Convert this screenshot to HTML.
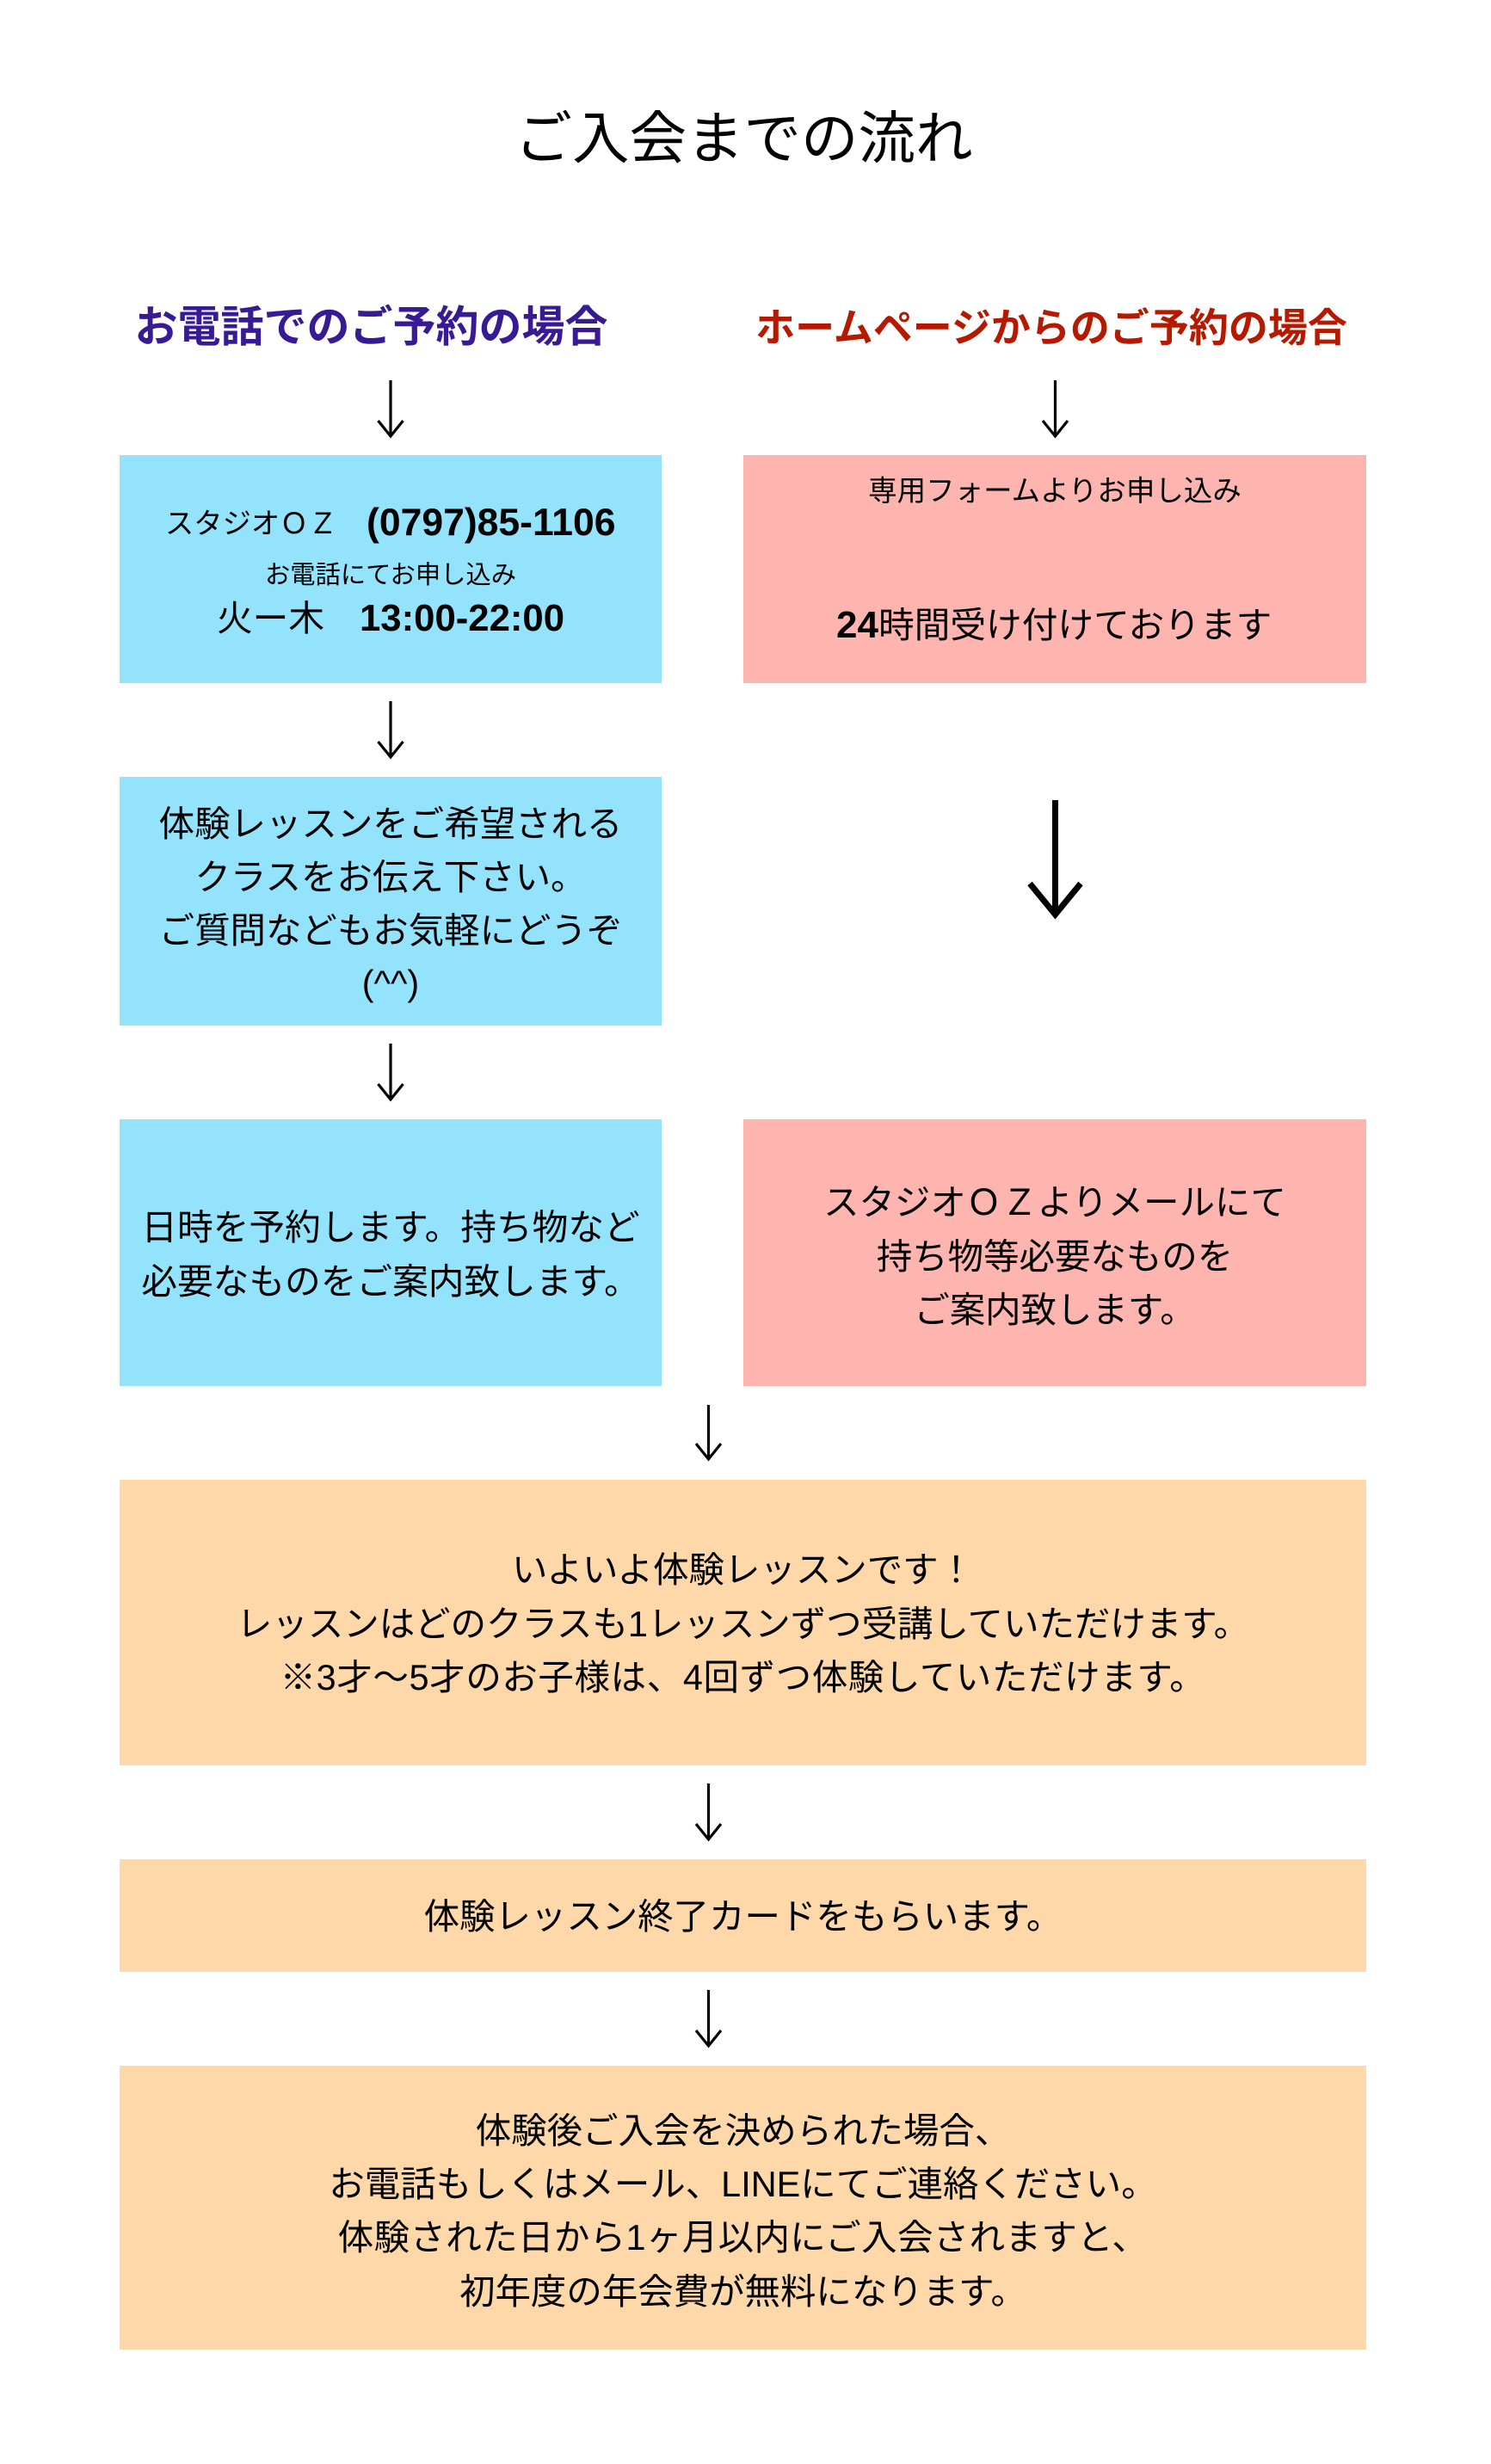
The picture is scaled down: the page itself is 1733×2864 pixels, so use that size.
<!DOCTYPE html>
<html lang="ja"><head><meta charset="utf-8"><title>ご入会までの流れ</title>
<style>html,body{margin:0;padding:0;background:#fff}svg{display:block}
text{font-family:"Liberation Sans","Noto Sans CJK JP",sans-serif;fill:#000;font-size:41.450px}
.m{text-anchor:middle}.b{font-weight:bold}</style></head><body>
<svg xmlns="http://www.w3.org/2000/svg" width="1733" height="2864" viewBox="0 0 1733 2864">
<rect width="1733" height="2864" fill="#fff"/>
<rect x="139" y="529" width="630" height="265" fill="#93E3FD"/>
<rect x="139" y="903" width="630" height="289" fill="#93E3FD"/>
<rect x="139" y="1301" width="630" height="310" fill="#93E3FD"/>
<rect x="864" y="529" width="724" height="265" fill="#FFB5AF"/>
<rect x="864" y="1301" width="724" height="310" fill="#FFB5AF"/>
<rect x="139" y="1720" width="1449" height="332" fill="#FED8A8"/>
<rect x="139" y="2161" width="1449" height="131" fill="#FED8A8"/>
<rect x="139" y="2401" width="1449" height="330" fill="#FED8A8"/>
<g fill="none" stroke="#000" stroke-width="3.200">
<path d="M454 442V507M439.500 489L454 507L468.500 489"/>
<path d="M1226.500 442V507M1212 489L1226.500 507L1241 489"/>
<path d="M454 815V880M439.500 862L454 880L468.500 862"/>
<path d="M454 1213V1278M439.500 1260L454 1278L468.500 1260"/>
<path d="M823.500 1633V1696M809 1678L823.500 1696L838 1678"/>
<path d="M823.500 2073V2138M809 2120L823.500 2138L838 2120"/>
<path d="M823.500 2313V2378M809 2360L823.500 2378L838 2360"/>
<path d="M1226.500 930V1060M1197 1027L1226.500 1063L1256 1027" stroke-width="7"/>
</g>
<text class="m" x="864.500" y="184" style="font-size:66.500px">ご入会までの流れ</text>
<text class="m b" x="431.500" y="397" style="font-size:50px;fill:#371A94">お電話でのご予約の場合</text>
<text class="m b" x="1222" y="397" style="font-size:46px;fill:#B51A00">ホームページからのご予約の場合</text>
<text x="192" y="620" style="font-size:33.300px">スタジオＯＺ</text>
<text class="b" x="426" y="622" style="font-size:44.500px">(0797)85-1106</text>
<text class="m" x="454" y="678" style="font-size:29.300px">お電話にてお申し込み</text>
<text x="252" y="733" style="font-size:41.700px">火ー木</text>
<text class="b" x="418" y="733" style="font-size:43.700px">13:00-22:00</text>
<text class="m" x="1226" y="582" style="font-size:33.500px">専用フォームよりお申し込み</text>
<text x="972" y="741" style="font-size:41.700px"><tspan class="b" style="font-size:44px">24</tspan>時間受け付けております</text>
<text class="m" x="454" y="972">体験レッスンをご希望される</text>
<text class="m" x="454" y="1034">クラスをお伝え下さい。</text>
<text class="m" x="454" y="1096">ご質問などもお気軽にどうぞ</text>
<text class="m" x="454" y="1157">(^^)</text>
<text class="m" x="454" y="1441" style="font-size:41.700px">日時を予約します。持ち物など</text>
<text class="m" x="454" y="1504" style="font-size:41.700px">必要なものをご案内致します。</text>
<text class="m" x="1226" y="1412">スタジオＯＺよりメールにて</text>
<text class="m" x="1226" y="1475">持ち物等必要なものを</text>
<text class="m" x="1226" y="1537">ご案内致します。</text>
<text class="m" x="863.500" y="1839">いよいよ体験レッスンです！</text>
<text class="m" x="863.500" y="1902">レッスンはどのクラスも1レッスンずつ受講していただけます。</text>
<text class="m" x="863.500" y="1964" style="letter-spacing:.65px">※3才～5才のお子様は、4回ずつ体験していただけます。</text>
<text class="m" x="863.500" y="2242">体験レッスン終了カードをもらいます。</text>
<text class="m" x="863.500" y="2491">体験後ご入会を決められた場合、</text>
<text class="m" x="863.500" y="2553">お電話もしくはメール、LINEにてご連絡ください。</text>
<text class="m" x="863.500" y="2615" style="letter-spacing:.4px">体験された日から1ヶ月以内にご入会されますと、</text>
<text class="m" x="863.500" y="2678">初年度の年会費が無料になります。</text>
</svg></body></html>
